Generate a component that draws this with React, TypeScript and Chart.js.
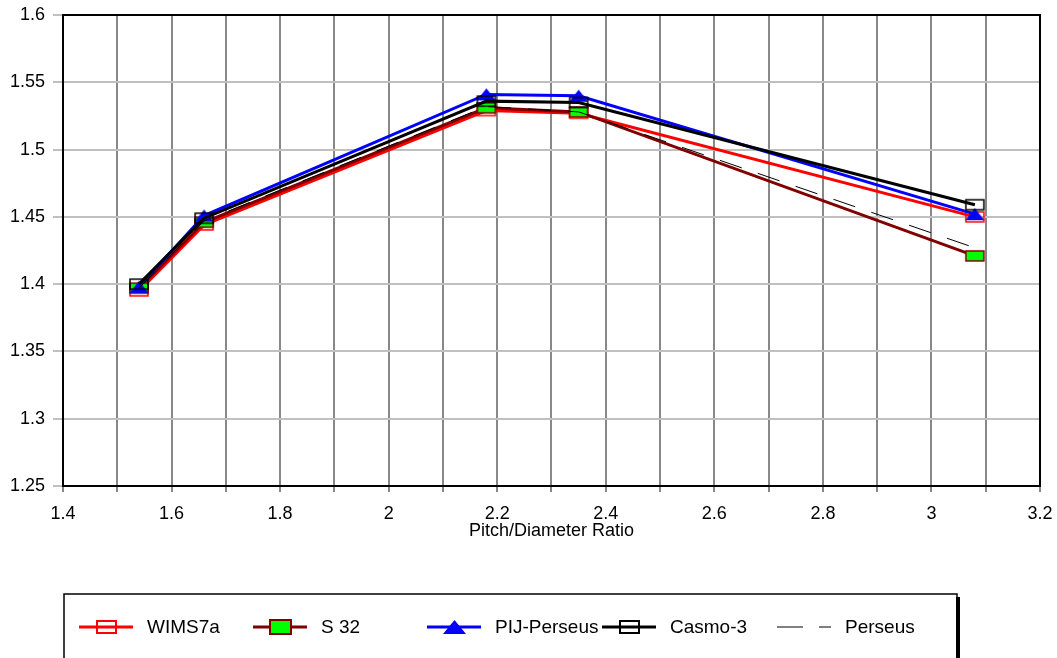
import React, { useEffect, useRef } from 'react';
import { Chart, registerables } from 'chart.js';

Chart.register(...registerables);

// ---- Data ----
const pitchDiameterRatio = [1.54, 1.66, 2.18, 2.35, 3.08];
const wims7a = [1.395, 1.444, 1.529, 1.527, 1.450];
const s32 = [1.397, 1.446, 1.531, 1.528, 1.421];
const pijPerseus = [1.398, 1.451, 1.541, 1.540, 1.452];
const casmo3 = [1.400, 1.449, 1.536, 1.535, 1.459];
const perseus = [1.397, 1.447, 1.532, 1.528, 1.427];
const seriesNames = ['WIMS7a', 'S 32', 'PIJ-Perseus', 'Casmo-3', 'Perseus'];
const xAxisTitle = 'Pitch/Diameter Ratio';
const xMin = 1.4, xMax = 3.2, xStep = 0.1;
const yMin = 1.25, yMax = 1.6, yStep = 0.05;

// ---- Layout (not data) ----
const W = 1057, H = 658;
const legendItemX = [79, 253, 427, 602, 777];
const FONT = 'Arial, "Liberation Sans", sans-serif';

function rectMarker(w: number, h: number, stroke: string, fill: string | null, lw: number) {
  const c = document.createElement('canvas');
  c.width = w + 4; c.height = h + 4;
  const g = c.getContext('2d')!;
  if (fill) { g.fillStyle = fill; g.fillRect(2, 2, w, h); }
  g.strokeStyle = stroke; g.lineWidth = lw; g.strokeRect(2, 2, w, h);
  return c;
}
function triMarker(w: number, h: number, fill: string) {
  const c = document.createElement('canvas');
  c.width = w + 2; c.height = h + 2;
  const g = c.getContext('2d')!;
  g.fillStyle = fill;
  g.beginPath();
  g.moveTo(1, h + 1); g.lineTo(w / 2 + 1, 1); g.lineTo(w + 1, h + 1); g.closePath();
  g.fill();
  return c;
}

export default function App() {
  const ref = useRef<HTMLCanvasElement>(null);
  useEffect(() => {
    const markers = [
      rectMarker(18, 10, '#ff0000', null, 1.5),
      rectMarker(18, 10, '#800000', '#00ff00', 1.5),
      triMarker(19, 12, '#0000ff'),
      rectMarker(18, 10, '#000000', null, 1.5),
      null,
    ];
    const legendMarkers = [
      rectMarker(19, 12, '#ff0000', null, 2),
      rectMarker(21, 14, '#800000', '#00ff00', 2),
      triMarker(23, 14, '#0000ff'),
      rectMarker(19, 12, '#000000', null, 2),
      null,
    ];
    const colors = ['#ff0000', '#800000', '#0000ff', '#000000', '#000000'];
    const widths = [3, 3, 3, 3, 1];
    const dashes: number[][] = [[], [], [], [], [23, 17]];
    const values = [wims7a, s32, pijPerseus, casmo3, perseus];
    const orders = [4, 3, 2, 1, 0];

    const datasets = values.map((vals, i) => ({
      label: seriesNames[i],
      data: vals.map((v, j) => ({ x: pitchDiameterRatio[j], y: v })),
      borderColor: colors[i],
      backgroundColor: colors[i],
      borderWidth: widths[i],
      borderDash: dashes[i],
      pointStyle: (markers[i] || 'circle') as any,
      pointRadius: markers[i] ? 6 : 0,
      pointHoverRadius: markers[i] ? 6 : 0,
      tension: 0,
      order: orders[i],
    }));

    const framePlugin = {
      id: 'frame',
      beforeDatasetsDraw(chart: any) {
        const { ctx, chartArea: a } = chart;
        ctx.save();
        ctx.strokeStyle = '#000';
        ctx.lineWidth = 2;
        ctx.beginPath();
        ctx.moveTo(a.left, a.top);
        ctx.lineTo(a.right, a.top);
        ctx.lineTo(a.right, a.bottom);
        ctx.stroke();
        ctx.restore();
      },
      afterDraw(chart: any) {
        const ctx = chart.ctx;
        ctx.save();
        // legend box
        ctx.fillStyle = '#000';
        ctx.fillRect(956, 597, 4, 70);
        ctx.strokeStyle = '#000';
        ctx.lineWidth = 1.5;
        ctx.strokeRect(64, 594, 893, 80);
        const cy = 627;
        for (let i = 0; i < seriesNames.length; i++) {
          const x0 = legendItemX[i];
          ctx.save();
          ctx.strokeStyle = colors[i];
          ctx.lineWidth = widths[i];
          if (i === 4) {
            ctx.setLineDash([26, 16]);
            ctx.lineWidth = 1;
          }
          ctx.beginPath();
          ctx.moveTo(x0, cy);
          ctx.lineTo(x0 + 54, cy);
          ctx.stroke();
          ctx.restore();
          const m = legendMarkers[i];
          if (m) ctx.drawImage(m, Math.round(x0 + 27 - m.width / 2), Math.round(cy - m.height / 2));
          ctx.fillStyle = '#000';
          ctx.font = '19px ' + FONT;
          ctx.textBaseline = 'middle';
          ctx.textAlign = 'left';
          ctx.fillText(seriesNames[i], x0 + 68, cy + 1);
        }
        ctx.restore();
      },
    };

    const chart = new Chart(ref.current!, {
      type: 'line',
      data: { datasets },
      plugins: [framePlugin],
      options: {
        animation: false,
        responsive: false,
        devicePixelRatio: 1,
        layout: { padding: { left: 0, right: 17, top: 15, bottom: 116 } },
        plugins: { legend: { display: false }, tooltip: { enabled: false } },
        scales: {
          x: {
            type: 'linear',
            min: xMin,
            max: xMax,
            afterFit: (s: any) => { s.height = 56; s.paddingLeft = 0; s.paddingRight = 0; },
            border: { color: '#000', width: 2 },
            grid: { color: '#888888', lineWidth: 2, drawTicks: true, tickLength: 6 },
            ticks: {
              stepSize: xStep,
              autoSkip: false,
              maxRotation: 0,
              padding: 11,
              color: '#000',
              font: { family: FONT, size: 18 },
              callback: (v: any) => {
                const t = Math.round(Number(v) * 10);
                return t % 2 === 0 ? String(t / 10) : '';
              },
            },
            title: {
              display: true,
              text: xAxisTitle,
              color: '#000',
              font: { family: FONT, size: 18 },
              padding: 0,
            },
          },
          y: {
            type: 'linear',
            min: yMin,
            max: yMax,
            afterFit: (s: any) => { s.width = 63; s.paddingTop = 0; s.paddingBottom = 0; },
            border: { color: '#000', width: 2 },
            grid: { color: '#c0c0c0', lineWidth: 2, drawTicks: true, tickLength: 10 },
            ticks: {
              stepSize: yStep,
              autoSkip: false,
              padding: 8,
              color: '#000',
              font: { family: FONT, size: 18 },
              callback: (v: any) => String(Math.round(Number(v) * 100) / 100),
            },
          },
        },
      },
    });
    return () => chart.destroy();
  }, []);

  return (
    <div style={{ position: 'fixed', left: 0, top: 0, width: W, height: H, background: '#fff' }}>
      <canvas ref={ref} width={W} height={H} style={{ width: W, height: H, display: 'block' }} />
    </div>
  );
}
